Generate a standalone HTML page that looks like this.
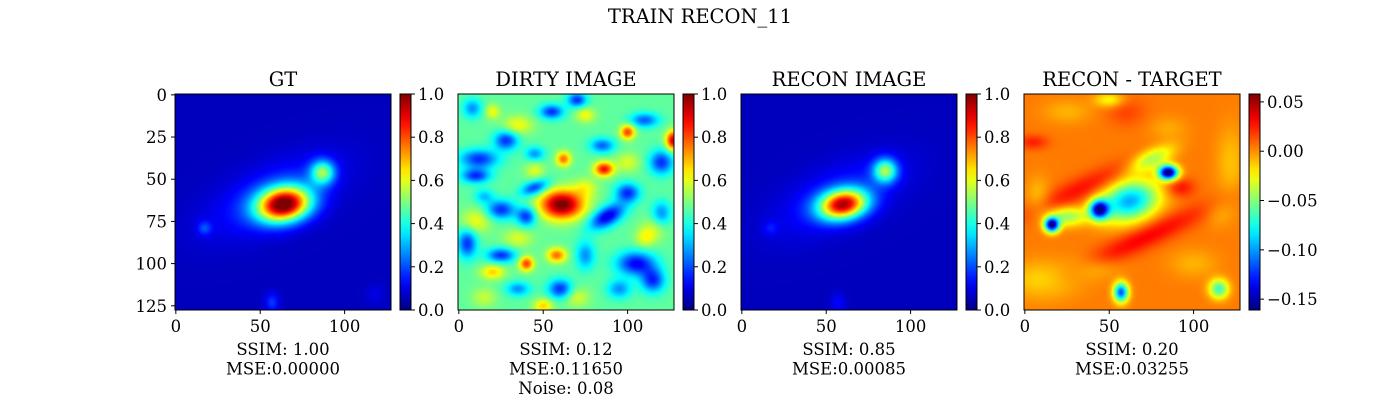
<!DOCTYPE html>
<html><head><meta charset="utf-8"><style>
body{margin:0;background:#fff;width:1400px;height:400px;overflow:hidden;font-family:"DejaVu Serif","Liberation Serif",serif;}
</style></head><body>
<svg id="fig" width="1400" height="400" xmlns="http://www.w3.org/2000/svg" font-family="DejaVu Serif, Liberation Serif, serif">
<text x="700" y="23" text-anchor="middle" font-size="19.5">TRAIN RECON_11</text>
</svg>
<script>
// panel values: background level, and blobs [x, y, sx, sy, amp, angleDeg]
const panelTitles = ["GT","DIRTY IMAGE","RECON IMAGE","RECON - TARGET"];
const panelBg = [0.06, 0.47, 0.06, 0.004];
const panelRange = [[0,1],[0,1],[0,1],[-0.161,0.058]];
const cbTicks = [[0,0.2,0.4,0.6,0.8,1.0],[0,0.2,0.4,0.6,0.8,1.0],[0,0.2,0.4,0.6,0.8,1.0],[0.05,0,-0.05,-0.10,-0.15]];
const cbTickLabels = [["0.0","0.2","0.4","0.6","0.8","1.0"],["0.0","0.2","0.4","0.6","0.8","1.0"],["0.0","0.2","0.4","0.6","0.8","1.0"],["0.05","0.00","\u22120.05","\u22120.10","\u22120.15"]];
const captions = [["SSIM: 1.00","MSE:0.00000"],["SSIM: 0.12","MSE:0.11650","Noise: 0.08"],["SSIM: 0.85","MSE:0.00085"],["SSIM: 0.20","MSE:0.03255"]];
const gtBlobs = [[64,65,11,7,0.92,-10],[87,46,5,5,0.42,0],[58,60,28,12,0.12,-25],[17,79,3,3,0.12,0],[57,123,3,4,0.12,0],[118,118,4,4,0.04,0]];
const dirtyBlobs = [[61,65,9,6,0.55,0],[12,38,8,4,-0.3,0],[10,48,6,3,-0.3,0],[28,27,5,4,-0.3,0],[55,10,5,3,-0.3,0],[70,3,4,3,-0.3,0],[45,55,6,3,-0.3,-20],[25,68,6,4,-0.3,0],[40,72,4,4,-0.3,0],[88,72,8,4,-0.38,-30],[100,58,5,4,-0.3,0],[60,115,5,4,-0.3,0],[25,95,6,3,-0.3,0],[5,88,4,6,-0.3,0],[105,100,8,5,-0.35,0],[115,110,5,5,-0.3,0],[120,40,5,5,-0.3,0],[85,30,5,3,-0.25,0],[110,15,6,3,-0.25,0],[8,8,4,4,-0.2,0],[75,95,4,6,-0.2,0],[95,115,5,4,-0.2,0],[35,115,5,3,-0.2,0],[45,35,4,3,-0.2,0],[120,70,4,5,-0.2,0],[15,60,4,3,-0.15,0],[86,44,4,3,0.4,0],[62,38,3,3,0.3,0],[100,22,3,3,0.35,0],[127,27,3,4,0.45,0],[58,95,4,3,0.3,0],[40,100,3,3,0.35,0],[20,105,5,3,0.2,0],[10,75,6,5,0.15,0],[35,18,6,4,0.15,0],[75,12,4,3,0.15,0],[115,80,5,5,0.1,0],[50,125,4,3,0.2,0],[20,10,3,3,0.15,0],[35,85,6,4,0.12,0],[75,55,5,4,0.12,0],[100,40,5,4,0.12,0],[110,85,4,4,0.12,0],[70,120,5,4,0.12,0],[15,120,5,4,0.1,0],[45,45,4,4,0.12,0]];
const reconBlobs = [[60,65,10,6,0.82,-10],[85,45,5,5,0.44,0],[58,60,28,12,0.1,-25],[17,79,3,3,0.07,0],[57,123,3,4,0.07,0]];
const diffBlobs = [[16,77,3,3,-0.16,0],[44,68,4,4,-0.14,0],[62,63,12,8,-0.1,-15],[85,46,4,3,-0.17,0],[57,117,3,4,-0.12,0],[115,115,4,4,-0.07,0],[75,38,10,4,-0.05,-25],[25,72,8,4,-0.05,0],[35,55,25,5,0.025,-25],[72,84,30,5,0.028,-25],[5,28,6,3,0.02,0],[92,55,6,4,0.025,0],[10,110,15,8,-0.02,0],[122,40,6,15,-0.015,0],[25,10,10,5,-0.012,0],[40,102,10,5,-0.015,0],[50,3,6,3,-0.03,0],[100,100,10,6,-0.012,0],[85,20,8,5,-0.01,0],[8,60,5,8,-0.015,0],[115,70,6,6,-0.01,0],[60,10,8,6,0.012,0]];
const panelBlobs = [gtBlobs, dirtyBlobs, reconBlobs, diffBlobs];
const xTicks = [0,50,100];
const yTicks = [0,25,50,75,100,125];

const NS="http://www.w3.org/2000/svg";
const svg=document.getElementById('fig');
const imgX=[175,458,741,1024], imgY=94, imgS=216, cbOff=225, cbW=11;
function jet(t){t=Math.max(0,Math.min(1,t));
 const r=Math.max(0,Math.min(1,1.5-Math.abs(4*t-3))),g=Math.max(0,Math.min(1,1.5-Math.abs(4*t-2))),b=Math.max(0,Math.min(1,1.5-Math.abs(4*t-1)));
 return [r*255|0,g*255|0,b*255|0];}
function el(tag,attrs,parent){const e=document.createElementNS(NS,tag);for(const k in attrs)e.setAttribute(k,attrs[k]);(parent||svg).appendChild(e);return e;}
function sx(p,v){return imgX[p]+(v+0.5)/128*imgS;}
function sy(v){return imgY+(v+0.5)/128*imgS;}
function field(p,x,y){let v=panelBg[p];for(const b of panelBlobs[p]){const a=b[5]*Math.PI/180,dx=x-b[0],dy=y-b[1];
 const u=dx*Math.cos(a)+dy*Math.sin(a),w=-dx*Math.sin(a)+dy*Math.cos(a);v+=b[4]*Math.exp(-0.5*(u*u/(b[2]*b[2])+w*w/(b[3]*b[3])));}return v;}
for(let p=0;p<4;p++){
 const [lo,hi]=panelRange[p];
 const c=document.createElement('canvas');c.width=128;c.height=128;const ctx=c.getContext('2d');const id=ctx.createImageData(128,128);
 for(let y=0;y<128;y++)for(let x=0;x<128;x++){const col=jet((field(p,x,y)-lo)/(hi-lo));const i=(y*128+x)*4;id.data[i]=col[0];id.data[i+1]=col[1];id.data[i+2]=col[2];id.data[i+3]=255;}
 ctx.putImageData(id,0,0);
 const im=el('image',{x:imgX[p],y:imgY,width:imgS,height:imgS,href:c.toDataURL(),preserveAspectRatio:'none'});
 
 
 const fr=el('rect',{x:imgX[p],y:imgY,width:imgS,height:imgS,fill:'none',stroke:'#000','stroke-width':1});
 
 
 const t=el('text',{x:imgX[p]+imgS/2,y:86,'text-anchor':'middle','font-size':19.5});t.textContent=panelTitles[p];
 
 
 for(const v of xTicks){const X=sx(p,v);el('line',{x1:X,x2:X,y1:imgY+imgS,y2:imgY+imgS+4,stroke:'#000'});
  const tt=el('text',{x:X,y:332,'text-anchor':'middle','font-size':16.5});tt.textContent=v;
  
  }
 if(p===0)for(const v of yTicks){const Y=sy(v);el('line',{x1:imgX[p]-4,x2:imgX[p],y1:Y,y2:Y,stroke:'#000'});
  const tt=el('text',{x:imgX[p]-8,y:Y+6,'text-anchor':'end','font-size':16.5});tt.textContent=v;
  
  }
 const cx=imgX[p]+cbOff, gid='g'+p;
 const lg=el('linearGradient',{id:gid,x1:0,y1:1,x2:0,y2:0});
 for(let i=0;i<=20;i++){const col=jet(i/20);el('stop',{offset:i/20,'stop-color':`rgb(${col})`},lg);}
 const cb=el('rect',{x:cx,y:imgY,width:cbW,height:imgS,fill:`url(#${gid})`,stroke:'#000','stroke-width':1});
 
 
 cbTicks[p].forEach((v,i)=>{const Y=imgY+imgS-(v-lo)/(hi-lo)*imgS;el('line',{x1:cx+cbW,x2:cx+cbW+4,y1:Y,y2:Y,stroke:'#000'});
  const tt=el('text',{x:cx+cbW+7,y:Y+6,'font-size':16.5});tt.textContent=cbTickLabels[p][i];
  
  });
 captions[p].forEach((s,i)=>{const tt=el('text',{x:imgX[p]+imgS/2,y:355+i*19.5,'text-anchor':'middle','font-size':16.5});tt.textContent=s;
  
  });
}
</script>
</body></html>
